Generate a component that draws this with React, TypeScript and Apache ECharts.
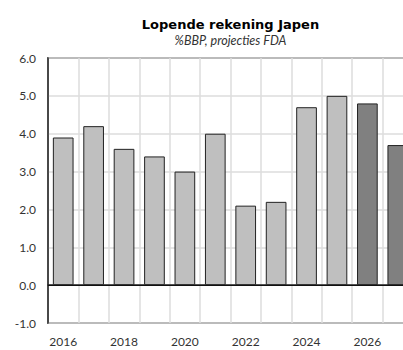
import React, { useEffect, useRef } from "react";
import * as echarts from "echarts";

const years = ["2016", "2017", "2018", "2019", "2020", "2021", "2022", "2023", "2024", "2025", "2026", "2027"];
const values = [3.9, 4.2, 3.6, 3.4, 3.0, 4.0, 2.1, 2.2, 4.7, 5.0, 4.8, 3.7];
const projectionYears = ["2026", "2027"];
const titleText = "Lopende rekening Japen";
const subtitleText = "%BBP, projecties FDA";

const FONT = "Lato, 'DejaVu Sans', sans-serif";

export default function App() {
  const ref = useRef<HTMLDivElement>(null);
  useEffect(() => {
    if (!ref.current) return;
    const chart = echarts.init(ref.current, null, { renderer: "svg" });
    chart.setOption({
      animation: false,
      title: {
        text: titleText,
        subtext: subtitleText,
        left: "center",
        top: 13,
        itemGap: 3,
        textStyle: { fontFamily: "'DejaVu Sans', sans-serif", fontSize: 13, fontWeight: "bold", color: "#000" },
        subtextStyle: { fontFamily: FONT, fontSize: 12.5, fontStyle: "italic", color: "#333" },
      },
      grid: { left: 48, right: 48, top: 58, bottom: 27, show: true, borderColor: "#222", borderWidth: 1.5 },
      xAxis: {
        type: "category",
        data: years,
        axisLine: { show: true, lineStyle: { color: "#222", width: 1.5 } },
        axisTick: { show: false },
        axisLabel: { interval: 1, margin: 12, fontFamily: FONT, fontSize: 12, color: "#333" },
        splitLine: { show: true, interval: 0, lineStyle: { color: "#dcdcdc", width: 1.5 } },
      },
      yAxis: {
        type: "value",
        min: -1,
        max: 6,
        interval: 1,
        axisLine: { show: true, lineStyle: { color: "#222", width: 1.5 } },
        axisTick: { show: false },
        axisLabel: { margin: 12, fontFamily: FONT, fontSize: 12, color: "#333", formatter: (v: number) => v.toFixed(1) },
        splitLine: { show: true, lineStyle: { color: "#dcdcdc", width: 1.5 } },
      },
      series: [
        {
          type: "bar",
          barWidth: "68%",
          data: values.map((v, i) => ({
            value: v,
            itemStyle: {
              color: projectionYears.includes(years[i]) ? "#808080" : "#bfbfbf",
              borderColor: "#222",
              borderWidth: 1,
            },
          })),
          markLine: {
            silent: true,
            symbol: "none",
            label: { show: false },
            lineStyle: { color: "#111", width: 1, type: "solid" },
            data: [{ yAxis: 0 }],
          },
        },
      ],
    });
    return () => chart.dispose();
  }, []);
  return (
    <div style={{ position: "fixed", left: 0, top: 0, width: 403, height: 350, overflow: "hidden", background: "#fff" }}>
      <div ref={ref} style={{ width: 461, height: 350 }} />
    </div>
  );
}
